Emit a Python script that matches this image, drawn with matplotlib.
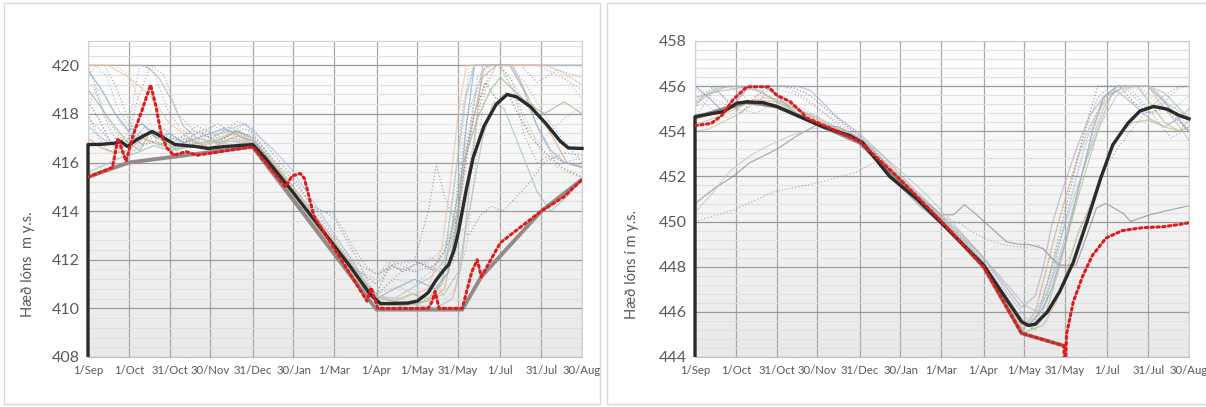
import numpy as np
import matplotlib
matplotlib.use("Agg")
import matplotlib.pyplot as plt
from matplotlib.patches import Rectangle
from matplotlib.ticker import MultipleLocator
from matplotlib.colors import LinearSegmentedColormap

plt.rcParams['font.family'] = ['Lato', 'DejaVu Sans']

# ---------------- data ----------------
tick_days = [0, 30, 60, 90, 121, 151, 181, 212, 242, 272, 303, 333, 363]
tick_labels = ["1/Sep", "1/Oct", "31/Oct", "30/Nov", "31/Dec", "30/Jan", "1/Mar",
               "1/Apr", "1/May", "31/May", "1/Jul", "31/Jul", "30/Aug"]

# left reservoir (408-421)
left_rule_d = [0, 30, 121, 212, 275, 289, 333, 363]
left_rule_h = [415.4, 416.0, 416.65, 409.95, 409.95, 411.3, 414.0, 415.3]

left_red_d = [0, 18, 22, 28, 33, 40, 46, 50, 54, 58, 63, 72, 80, 121, 145, 150, 156, 159, 166,
              205, 208, 213, 250, 253, 255, 258, 275, 282, 286, 289, 303, 333, 350, 363]
left_red_h = [415.4, 415.8, 417.0, 416.05, 417.1, 418.2, 419.2, 418.3, 417.1, 416.6, 416.3,
              416.45, 416.3, 416.65, 415.0, 415.45, 415.55, 415.35, 413.8, 410.3, 410.85, 410.0,
              410.0, 410.3, 410.7, 410.0, 410.0, 411.5, 412.0, 411.3, 412.7, 414.0, 414.6, 415.3]

left_mean_d = [0, 0, 10, 20, 24, 29, 36, 47, 54, 64, 79, 88, 101, 121, 130, 151, 171, 193, 207,
               215, 235, 242, 250, 255, 261, 265, 269, 272, 278, 283, 291, 300, 308, 315, 325,
               337, 347, 353, 363]
left_mean_h = [0, 416.74, 416.75, 416.8, 416.87, 416.66, 416.95, 417.28, 417.07, 416.74, 416.66,
               416.58, 416.66, 416.74, 416.2, 414.75, 413.3, 411.7, 410.6, 410.19, 410.22,
               410.3, 410.65, 411.1, 411.55, 411.8, 412.4, 413.1, 414.9, 416.2, 417.5, 418.4,
               418.8, 418.7, 418.3, 417.57, 416.88, 416.6, 416.58]

# left: individual simulated years
la_d = [0, 12, 20, 28, 35, 45, 55, 62, 75, 90, 105, 121, 135, 150, 165, 180, 196, 212, 225, 240, 255, 262, 268, 276, 283, 363]
la_h = [420, 420, 419.2, 418, 417.2, 416.9, 417.4, 417.0, 416.8, 417.1, 417.3, 417.1, 416.2, 415.3, 414.2, 413.0, 411.9, 411.4, 411.7, 411.5, 411.8, 412.3, 414.5, 418.5, 420, 420]
lb_d = [0, 5, 15, 25, 32, 40, 48, 58, 70, 85, 100, 115, 121, 140, 160, 175, 182, 195, 205, 212, 220, 232, 245, 258, 266, 272, 279, 292, 305, 318, 330, 345, 363]
lb_h = [418.2, 419.0, 417.5, 416.5, 416.3, 417.0, 417.3, 416.9, 416.6, 416.7, 417.0, 417.4, 417.2, 415.8, 414.3, 413.95, 413.6, 412.3, 411.2, 410.5, 411.0, 411.6, 411.9, 411.5, 412.5, 415.0, 418.0, 420, 420, 420, 419.3, 419.8, 419.5]
lc_d = [0, 10, 20, 30, 40, 50, 60, 75, 90, 105, 121, 140, 160, 181, 200, 212, 230, 250, 262, 270, 278, 290, 300, 312, 325, 340, 352, 363]
lc_h = [417.0, 416.6, 416.4, 416.5, 417.0, 416.8, 416.6, 416.9, 416.6, 417.0, 416.8, 415.4, 413.9, 412.4, 411.0, 410.2, 410.1, 410.3, 410.8, 413.0, 416.5, 419.5, 420, 420, 418.5, 417.2, 416.0, 415.8]
ld_d = [0, 8, 18, 28, 38, 45, 55, 65, 80, 95, 110, 121, 135, 152, 170, 190, 205, 212, 225, 238, 250, 260, 268, 276, 286, 296, 303, 320, 335, 350, 363]
ld_h = [419.0, 418.4, 417.6, 416.9, 416.5, 417.2, 416.9, 416.5, 416.8, 416.9, 417.3, 417.0, 416.0, 414.9, 413.6, 412.1, 411.0, 410.5, 410.3, 410.6, 410.4, 411.0, 413.5, 416.0, 417.8, 419.0, 419.5, 418.6, 418.0, 418.5, 418.0]
le_d = [0, 20, 30, 42, 52, 62, 70, 80, 95, 110, 121, 140, 160, 181, 200, 212, 235, 255, 268, 275, 282, 290, 363]
le_h = [420, 420, 420, 420, 419.5, 418.5, 417.5, 417.0, 416.8, 417.1, 416.8, 415.5, 414.0, 412.5, 411.2, 410.4, 410.2, 410.0, 410.4, 412.0, 416.0, 420, 420]
lf_d = [0, 6, 14, 22, 30, 38, 48, 58, 68, 80, 92, 104, 116, 121, 140, 158, 170, 182, 196, 212, 220, 230, 240, 250, 260, 268, 274, 282, 290, 300, 310, 322, 335, 348, 363]
lf_h = [419.5, 420, 419.5, 418.2, 417.5, 420, 419.8, 418.2, 417.4, 417.0, 417.5, 417.2, 417.6, 417.2, 415.8, 414.5, 413.5, 412.6, 411.6, 411.2, 411.9, 411.6, 412.0, 411.7, 411.4, 411.9, 413.5, 416.5, 419.0, 420, 420, 419.2, 418.0, 417.0, 416.0]
lg_d = [0, 10, 20, 30, 45, 60, 75, 90, 105, 121, 140, 160, 175, 190, 205, 212, 230, 245, 255, 263, 270, 278, 285, 292, 300, 315, 330, 345, 363]
lg_h = [416.0, 415.8, 416.1, 416.4, 416.9, 416.5, 416.8, 416.5, 416.9, 416.8, 415.6, 414.1, 413.1, 412.0, 410.9, 410.3, 410.1, 410.2, 411.0, 410.4, 410.8, 412.5, 416.0, 419.0, 420, 420, 420, 419.6, 419.0]
lh_d = [0, 10, 20, 35, 50, 65, 80, 95, 110, 121, 140, 155, 165, 172, 180, 188, 196, 205, 212, 225, 240, 250, 256, 262, 270, 280, 288, 296, 305, 315, 325, 335, 350, 363]
lh_h = [417.8, 417.3, 416.6, 417.1, 417.3, 416.9, 417.5, 417.1, 417.7, 417.4, 416.1, 415.1, 414.1, 414.0, 413.9, 413.2, 412.4, 411.7, 411.4, 411.8, 412.0, 414.0, 415.9, 414.6, 413.5, 413.0, 413.8, 414.2, 414.0, 414.6, 415.2, 416.0, 416.4, 416.3]
li_d = [0, 15, 30, 45, 60, 75, 90, 105, 121, 140, 160, 181, 200, 212, 228, 245, 260, 270, 280, 287, 295, 303, 312, 322, 332, 345, 356, 363]
li_h = [416.8, 416.5, 416.3, 416.6, 416.9, 416.6, 416.9, 417.3, 416.9, 415.7, 414.2, 412.6, 411.2, 410.6, 410.9, 410.4, 411.0, 412.2, 415.0, 418.0, 420, 420, 419.0, 417.8, 416.5, 415.8, 415.5, 415.4]
lj_d = [0, 10, 22, 32, 42, 52, 62, 72, 85, 100, 115, 121, 135, 150, 170, 190, 205, 212, 225, 240, 252, 262, 270, 277, 284, 292, 363]
lj_h = [417.5, 417.0, 416.6, 416.8, 417.5, 417.1, 416.7, 417.0, 416.8, 417.3, 417.6, 417.3, 416.6, 415.7, 414.0, 412.3, 411.0, 410.5, 410.4, 410.9, 411.3, 412.0, 415.5, 418.5, 420, 420, 420]
lk_d = [0, 8, 16, 24, 32, 40, 50, 62, 72, 82, 95, 108, 121, 140, 158, 175, 190, 205, 212, 222, 232, 242, 252, 260, 268, 276, 284, 292, 300, 308, 316, 326, 336, 348, 363]
lk_h = [418.5, 417.8, 416.9, 416.5, 417.2, 416.7, 416.9, 416.5, 416.9, 417.3, 416.8, 417.3, 417.0, 415.6, 414.2, 412.9, 411.9, 410.9, 410.6, 411.8, 411.5, 411.9, 411.6, 412.2, 413.0, 415.5, 418.0, 419.3, 418.6, 418.9, 418.0, 417.0, 416.4, 415.8, 415.4]
ll_d = [0, 12, 24, 36, 48, 60, 75, 90, 105, 121, 140, 160, 181, 200, 212, 230, 248, 262, 272, 280, 290, 298, 306, 318, 330, 340, 352, 363]
ll_h = [415.6, 415.9, 416.2, 416.4, 416.7, 416.5, 416.7, 416.6, 416.9, 416.7, 415.4, 414.0, 412.5, 411.1, 410.3, 410.1, 410.3, 410.6, 411.5, 414.0, 417.0, 418.5, 418.2, 416.5, 414.8, 414.0, 414.6, 415.4]
lm_d = [0, 5, 12, 20, 28, 36, 46, 56, 66, 80, 96, 110, 121, 140, 160, 181, 196, 212, 226, 240, 252, 262, 272, 279, 286, 294, 303, 312, 320, 330, 340, 350, 363]
lm_h = [420, 419.2, 418.0, 417.3, 416.7, 418.5, 420, 419.6, 418.0, 417.2, 417.6, 417.0, 416.9, 415.6, 414.1, 412.6, 411.6, 411.0, 411.9, 411.5, 412.1, 411.8, 413.5, 416.5, 419.5, 420, 420, 419.3, 417.2, 416.0, 416.3, 416.0, 416.2]
ln_d = [0, 10, 20, 30, 40, 50, 60, 72, 85, 100, 121, 150, 181, 212, 235, 255, 266, 273, 280, 288, 296, 303, 320, 340, 355, 363]
ln_h = [420, 420, 420, 419.6, 418.2, 417.2, 416.8, 417.0, 416.7, 416.9, 416.8, 414.7, 412.3, 410.3, 410.1, 410.5, 412.2, 416.0, 420, 420, 420, 420, 420, 420, 419.2, 418.6]
lo_d = [0, 10, 20, 30, 40, 50, 60, 70, 85, 100, 115, 121, 140, 160, 181, 200, 212, 225, 240, 255, 265, 272, 278, 284, 290, 300, 310, 320, 330, 340, 350, 363]
lo_h = [419.8, 419.0, 418.0, 417.3, 417.6, 417.0, 417.2, 416.8, 417.1, 417.4, 417.0, 416.9, 415.6, 414.1, 412.6, 411.2, 410.4, 410.8, 411.2, 410.8, 411.5, 414.0, 417.5, 420, 420, 420, 420, 419.0, 417.5, 416.5, 416.0, 415.8]
lp_d = [0, 8, 16, 24, 32, 44, 56, 66, 78, 90, 102, 114, 121, 140, 160, 181, 200, 212, 222, 236, 248, 258, 266, 272, 278, 284, 290, 296, 302, 310, 318, 326, 334, 342, 350, 363]
lp_h = [418.0, 417.0, 416.4, 416.8, 417.5, 417.0, 417.4, 417.0, 417.3, 417.0, 417.5, 417.2, 417.0, 415.7, 414.3, 412.8, 411.5, 411.0, 411.9, 412.0, 411.8, 412.3, 413.0, 414.0, 416.5, 418.5, 419.8, 420, 420, 419.5, 418.7, 418.0, 417.0, 416.2, 416.0, 415.9]
lq_d = [0, 15, 30, 45, 60, 75, 90, 105, 121, 140, 160, 181, 200, 212, 230, 250, 260, 266, 272, 278, 286, 296, 306, 316, 326, 336, 346, 363]
lq_h = [420, 420, 419.5, 418.8, 417.6, 417.0, 416.9, 417.2, 417.0, 415.8, 414.3, 412.8, 411.3, 410.5, 410.4, 410.8, 412.5, 415.0, 418.0, 420, 420, 420, 420, 420, 420, 420, 419.8, 419.2]
lr_d = [0, 12, 24, 36, 48, 60, 72, 84, 96, 108, 121, 140, 160, 181, 200, 212, 226, 240, 254, 262, 270, 278, 286, 294, 302, 312, 322, 332, 342, 352, 363]
lr_h = [419.3, 418.8, 417.6, 416.9, 417.3, 416.8, 417.1, 416.7, 417.0, 417.2, 416.9, 415.6, 414.1, 412.6, 411.3, 410.6, 411.2, 411.0, 411.6, 412.3, 414.0, 416.8, 419.2, 420, 420, 419.0, 417.5, 416.8, 417.4, 417.9, 418.3]

# right reservoir (444-458)
right_rule_d = [0, 38, 60, 121, 181, 212, 240, 271]
right_rule_h = [454.6, 455.3, 455.1, 453.5, 450.0, 448.0, 445.05, 444.5]

right_red_d = [0, 12, 20, 28, 38, 54, 60, 70, 79, 82, 121, 150, 160, 181, 212, 240, 271, 272,
               273, 278, 285, 292, 302, 314, 329, 344, 359, 363]
right_red_h = [454.25, 454.35, 454.72, 455.4, 455.97, 455.97, 455.6, 455.31, 454.8, 454.6,
               453.55, 451.9, 451.3, 450.0, 448.0, 445.05, 444.5, 443.0, 445.0, 446.45, 447.6,
               448.5, 449.27, 449.6, 449.73, 449.77, 449.9, 449.95]

right_mean_d = [0, 0, 21, 31, 38, 50, 60, 77, 94, 114, 123, 143, 163, 180, 212, 240, 245, 250,
                259, 268, 278, 288, 298, 307, 318, 327, 337, 347, 356, 363]
right_mean_h = [0, 454.65, 454.87, 455.25, 455.3, 455.27, 455.1, 454.65, 454.2, 453.8, 453.5,
                452.0, 451.0, 450.0, 448.07, 445.56, 445.4, 445.45, 446.0, 446.9, 448.2, 450.0,
                451.9, 453.4, 454.35, 454.9, 455.1, 454.98, 454.7, 454.55]

ra_d = [0, 15, 28, 40, 60, 75, 90, 105, 121, 135, 150, 165, 181, 190, 198, 207, 218, 229, 238, 246, 256, 262, 268, 280, 288, 295, 302, 315, 320, 334, 348, 363]
ra_h = [450.8, 451.5, 452.0, 452.6, 453.2, 453.8, 454.3, 454.2, 453.7, 452.9, 452.0, 451.1, 450.3, 450.3, 450.75, 450.3, 449.7, 449.1, 449.0, 448.98, 448.8, 448.4, 448.07, 448.07, 449.4, 450.6, 450.8, 450.35, 450.0, 450.3, 450.5, 450.7]
rb_d = [0, 28, 57, 94, 119, 131, 145, 165, 181, 195, 205, 215, 225, 235, 245, 252, 258, 264, 270, 276, 284, 292, 300, 310, 320, 333, 345, 356, 363]
rb_h = [450.0, 450.5, 451.3, 451.77, 452.2, 452.6, 452.1, 451.1, 450.2, 449.9, 449.5, 449.2, 449.0, 448.9, 448.85, 449.0, 448.6, 448.2, 448.0, 448.5, 449.8, 451.0, 452.2, 453.2, 454.0, 455.0, 455.6, 456, 456]
rc_d = [0, 12, 25, 40, 55, 70, 85, 100, 115, 121, 135, 150, 170, 190, 212, 230, 245, 255, 262, 270, 278, 288, 298, 310, 322, 335, 348, 363]
rc_h = [450.4, 451.2, 452.2, 452.9, 453.4, 453.8, 454.1, 454.2, 453.9, 453.7, 453.1, 452.3, 451.2, 449.9, 448.4, 446.8, 445.6, 446.5, 448.0, 449.5, 451.0, 452.8, 454.3, 455.6, 456, 456, 455.2, 454.6]
rd_d = [0, 10, 20, 30, 40, 50, 60, 70, 80, 90, 100, 110, 121, 135, 150, 165, 181, 196, 212, 226, 240, 248, 256, 262, 268, 274, 280, 286, 292, 300, 310, 320, 333, 345, 356, 363]
rd_h = [456, 455.5, 454.9, 455.3, 456, 456, 455.6, 455.0, 454.6, 454.4, 454.1, 453.8, 453.5, 452.6, 451.6, 450.7, 449.9, 449.0, 447.9, 446.6, 445.2, 445.6, 446.2, 447.0, 448.2, 449.5, 451.0, 452.5, 454.0, 455.5, 456, 456, 456, 455.3, 454.5, 454.0]
re_d = [0, 8, 16, 25, 35, 45, 55, 65, 75, 85, 95, 105, 121, 140, 160, 181, 200, 212, 225, 238, 246, 252, 258, 264, 270, 276, 282, 288, 296, 305, 315, 325, 335, 345, 355, 363]
re_h = [454.6, 455.3, 456, 456, 455.6, 455.1, 456, 456, 455.7, 455.3, 454.8, 454.3, 453.7, 452.4, 451.1, 450.0, 448.9, 448.1, 446.9, 445.6, 445.4, 446.4, 447.8, 449.3, 450.5, 451.8, 453.0, 454.2, 455.5, 456, 456, 455.4, 454.8, 455.3, 455.9, 456]
rf_d = [0, 10, 20, 30, 40, 50, 60, 75, 90, 105, 121, 140, 160, 181, 200, 212, 228, 242, 250, 256, 262, 268, 274, 280, 290, 300, 310, 320, 333, 345, 356, 363]
rf_h = [454.0, 454.1, 454.4, 454.7, 455.1, 455.5, 455.4, 455.0, 454.5, 454.0, 453.5, 452.3, 451.0, 450.0, 448.8, 448.0, 446.6, 445.3, 446.0, 447.4, 448.8, 450.2, 451.4, 452.6, 454.2, 455.2, 455.8, 456, 456, 455.0, 454.2, 453.6]
rg_d = [0, 12, 24, 36, 48, 60, 75, 90, 105, 121, 140, 160, 181, 200, 212, 226, 242, 250, 258, 266, 274, 282, 290, 298, 306, 315, 325, 335, 345, 356, 363]
rg_h = [455.2, 455.7, 456, 456, 455.8, 455.3, 454.8, 454.4, 454.0, 453.6, 452.5, 451.3, 450.2, 449.0, 448.2, 446.9, 445.5, 445.2, 446.0, 447.6, 449.4, 451.2, 452.8, 454.4, 455.6, 456, 456, 455.2, 454.4, 454.0, 454.2]
rh_d = [0, 15, 30, 45, 60, 75, 90, 105, 121, 140, 160, 181, 200, 212, 226, 242, 252, 260, 266, 272, 278, 284, 292, 300, 310, 320, 333, 345, 356, 363]
rh_h = [455.8, 455.4, 455.0, 455.6, 455.9, 455.6, 455.0, 454.4, 453.8, 452.7, 451.4, 450.2, 449.1, 448.3, 447.0, 445.5, 445.8, 446.6, 447.9, 449.0, 450.5, 452.0, 453.8, 455.3, 456, 456, 455.6, 455.0, 454.6, 454.3]
ri_d = [0, 6, 14, 24, 34, 44, 54, 64, 74, 84, 96, 108, 121, 140, 160, 181, 200, 212, 226, 236, 242, 248, 254, 260, 266, 272, 278, 284, 290, 296, 304, 312, 322, 333, 345, 356, 363]
ri_h = [455.0, 455.6, 456, 455.3, 454.8, 455.5, 456, 456, 455.9, 455.6, 455.0, 454.4, 453.8, 452.6, 451.3, 450.1, 448.9, 448.2, 446.9, 446.0, 445.0, 445.3, 446.3, 447.5, 449.0, 450.5, 452.0, 453.5, 454.8, 456, 456, 456, 455.3, 454.8, 455.0, 454.4, 454.0]
rj_d = [0, 20, 40, 60, 75, 85, 95, 105, 121, 140, 160, 181, 200, 212, 226, 240, 250, 256, 262, 268, 275, 282, 290, 300, 310, 322, 333, 345, 356, 363]
rj_h = [455.5, 455.8, 456, 456, 456, 455.8, 455.2, 454.6, 453.9, 452.8, 451.5, 450.3, 449.2, 448.4, 447.3, 446.2, 446.7, 448.0, 449.8, 451.0, 452.3, 453.5, 454.7, 455.5, 455.8, 455.2, 454.6, 454.2, 454.6, 455.0]
rk_d = [0, 12, 24, 36, 50, 65, 80, 95, 110, 121, 140, 160, 181, 200, 212, 228, 244, 252, 260, 266, 272, 280, 288, 296, 304, 314, 325, 340, 352, 363]
rk_h = [455.6, 455.0, 454.6, 455.2, 455.6, 455.3, 455.0, 454.5, 454.0, 453.6, 452.5, 451.3, 450.1, 448.9, 448.1, 446.6, 445.4, 445.6, 447.2, 448.6, 450.0, 451.8, 453.5, 454.8, 455.7, 456, 456, 455.4, 455.0, 455.6]
rl_d = [0, 15, 30, 45, 60, 80, 100, 121, 150, 181, 212, 242, 256, 266, 274, 282, 290, 298, 306, 314, 322, 333, 345, 356, 363]
rl_h = [454.3, 454.6, 455.0, 455.4, 455.3, 454.8, 454.2, 453.6, 451.8, 450.0, 448.1, 445.1, 445.4, 446.5, 448.0, 449.6, 450.6, 452.0, 453.2, 454.0, 454.4, 454.5, 454.2, 454.0, 454.5]
rm_d = [0, 10, 20, 30, 45, 60, 75, 90, 105, 121, 140, 160, 181, 200, 212, 226, 240, 248, 256, 262, 270, 278, 286, 294, 302, 310, 318, 326, 334, 342, 350, 363]
rm_h = [456, 456, 455.6, 455.0, 454.8, 455.3, 455.0, 454.6, 454.1, 453.6, 452.5, 451.3, 450.1, 449.0, 448.2, 446.9, 445.7, 445.3, 446.0, 447.5, 449.5, 451.5, 453.3, 454.7, 455.6, 456, 456, 455.5, 454.9, 454.3, 453.7, 454.2]
rn_d = [0, 15, 30, 45, 60, 75, 90, 105, 121, 140, 160, 181, 200, 212, 228, 242, 252, 260, 268, 276, 284, 292, 300, 310, 320, 333, 345, 356, 363]
rn_h = [455.3, 455.9, 456, 455.8, 455.4, 455.0, 454.6, 454.1, 453.7, 452.6, 451.4, 450.2, 449.1, 448.4, 447.3, 446.3, 446.0, 447.0, 448.5, 450.2, 452.0, 453.6, 455.0, 456, 456, 456, 455.7, 455.0, 454.6]

# ---------------- styling ----------------
left_colors = ['#9a9a9a', '#7f99b2', '#d8a47f', '#95b88a', '#b5b5b5', '#8eb0d2', '#d39b9b',
               '#8591a3', '#c4b48a', '#a9c4de', '#707070', '#9cc3c0', '#a39ab8', '#e0b48f',
               '#7fa6cf', '#a7a7a7', '#e8c2a0', '#a8bfa0']
left_styles = [':', ':', '-', '-', '-', ':', ':', ':', ':', '-', ':', '-', ':', ':',
               '-', ':', '-', ':']
right_colors = ['#8c8c8c', '#8da2bb', '#b9c6d6', '#7f9fc4', '#95a5b5', '#e3b792', '#a3c29b',
                '#d7a5a5', '#6f7f90', '#b3a9c9', '#9fc5c8', '#c9b68e', '#8aa3bd', '#b8b8b8']
right_styles = ['-', ':', '-', '-', ':', '-', '-', ':', ':', '-', ':', '-', ':', '-']

left_runs = [(la_d, la_h), (lb_d, lb_h), (lc_d, lc_h), (ld_d, ld_h), (le_d, le_h),
             (lf_d, lf_h), (lg_d, lg_h), (lh_d, lh_h), (li_d, li_h), (lj_d, lj_h),
             (lk_d, lk_h), (ll_d, ll_h), (lm_d, lm_h), (ln_d, ln_h), (lo_d, lo_h),
             (lp_d, lp_h), (lq_d, lq_h), (lr_d, lr_h)]
right_runs = [(ra_d, ra_h), (rb_d, rb_h), (rc_d, rc_h), (rd_d, rd_h), (re_d, re_h),
              (rf_d, rf_h), (rg_d, rg_h), (rh_d, rh_h), (ri_d, ri_h), (rj_d, rj_h),
              (rk_d, rk_h), (rl_d, rl_h), (rm_d, rm_h), (rn_d, rn_h)]

text_color = '#595959'
bg_cmap = LinearSegmentedColormap.from_list('bg', ['#ffffff', '#e9e9e9'])

fig = plt.figure(figsize=(12.06, 4.07), dpi=100)

# panel frames
fig.add_artist(Rectangle((4 / 1206, 3 / 407), 596 / 1206, 401 / 407, transform=fig.transFigure,
                         fill=False, ec='#d9d9d9', lw=1))
fig.add_artist(Rectangle((607 / 1206, 3 / 407), 610 / 1206, 401 / 407, transform=fig.transFigure,
                         fill=False, ec='#d9d9d9', lw=1))

ax1 = fig.add_axes([88 / 1206, 50 / 407, 494 / 1206, 316 / 407])
ax2 = fig.add_axes([695 / 1206, 50 / 407, 494 / 1206, 316 / 407])


def setup(ax, ylo, yhi):
    ax.imshow(np.linspace(0, 1, 256).reshape(-1, 1), cmap=bg_cmap, aspect='auto',
              extent=[0, 363, ylo, yhi], origin='upper', zorder=0)
    ax.set_xlim(0, 363)
    ax.set_ylim(ylo, yhi)
    ax.set_xticks(tick_days)
    ax.set_xticklabels(tick_labels)
    ax.yaxis.set_major_locator(MultipleLocator(2))
    ax.yaxis.set_minor_locator(MultipleLocator(0.4))
    ax.set_axisbelow(True)
    ax.grid(which='minor', axis='y', color='#e0e0e0', lw=0.8)
    ax.grid(which='major', axis='y', color='#9a9a9a', lw=0.9)
    ax.grid(which='major', axis='x', color='#a8a8a8', lw=0.9)
    ax.tick_params(axis='both', which='both', length=0)
    ax.tick_params(axis='y', labelsize=11.5, labelcolor=text_color, pad=6)
    ax.tick_params(axis='x', labelsize=8.2, labelcolor=text_color, pad=6)
    for s in ax.spines.values():
        s.set_color('#d0d0d0')
        s.set_linewidth(0.8)
    ax.spines['bottom'].set_color('#bfbfbf')


setup(ax1, 408, 421)
setup(ax2, 444, 458)

for i, (d, h) in enumerate(left_runs):
    ax1.plot(d, h, color=left_colors[i], ls=left_styles[i], lw=0.9, alpha=0.7, zorder=2)
for i, (d, h) in enumerate(right_runs):
    ax2.plot(d, h, color=right_colors[i], ls=right_styles[i], lw=0.9, alpha=0.7, zorder=2)

for ax, rd, rh, md, mh, kd, kh in [(ax1, left_rule_d, left_rule_h, left_mean_d, left_mean_h, left_red_d, left_red_h),
                                    (ax2, right_rule_d, right_rule_h, right_mean_d, right_mean_h, right_red_d, right_red_h)]:
    ax.plot(rd, rh, color='#958a8a', lw=2.8, zorder=3, solid_capstyle='round')
    mean_line, = ax.plot(md, mh, color='#2b2b2b', lw=2.4, zorder=4)
    # let the thick mean line show fully at the left edge, like the original
    mean_line.set_clip_path(Rectangle((-0.01, 0), 1.02, 1, transform=ax.transAxes))
    ax.plot(kd, kh, color='#dd1c1c', lw=2.2, ls=(0, (0.8, 1.1)), dash_capstyle='round', zorder=5)

fig.text(28 / 1206, 1 - 264 / 407, "Hæð lóns  m y.s.", rotation=90, ha='center', va='center',
         fontsize=10.5, color=text_color)
fig.text(632 / 1206, 1 - 264 / 407, "Hæð lóns í m y.s.", rotation=90, ha='center', va='center',
         fontsize=10.5, color=text_color)

fig.savefig("out.png", dpi=100)
